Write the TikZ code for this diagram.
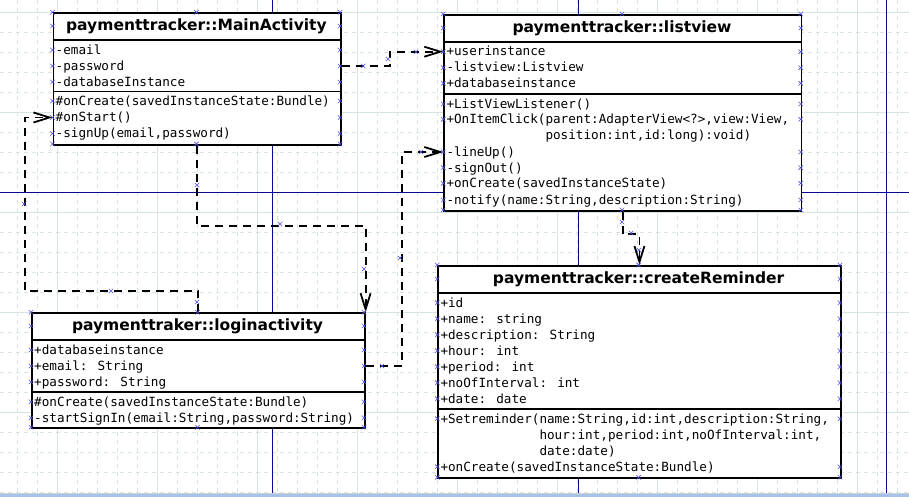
\documentclass[tikz,border=0pt]{standalone}
\usepackage{fontspec}
\setmainfont{DejaVu Sans}
\newfontfamily\umlmono{DejaVu Sans Mono}
\usepackage{tikz}
\usetikzlibrary{positioning,arrows.meta}
\definecolor{gridline}{RGB}{216,228,228}
\definecolor{pagebreak}{RGB}{10,10,140}
\definecolor{handle}{RGB}{80,80,235}
\definecolor{winbar}{RGB}{166,194,232}
\tikzstyle{classbox}=[rectangle, draw=black, line width=1.6pt, fill=white, anchor=north west, inner sep=0pt]
\tikzstyle{classname}=[font=\bfseries\fontsize{15.5}{18}\selectfont, inner sep=0pt]
\tikzstyle{member}=[font=\umlmono\fontsize{12.65}{16}\selectfont, anchor=west, inner sep=0pt,
text height=11pt, text depth=2.4pt]
\tikzstyle{divider}=[line width=1.6pt]
\tikzstyle{depend}=[line width=1.8pt, dash pattern=on 8pt off 6pt, -{Straight Barb[length=16pt,width=10pt]}]
\tikzstyle{handlemark}=[draw=handle, line width=0.6pt]
\newcommand{\hmark}[1]{\draw[handlemark] #1 +(-2.2pt,-2.2pt) -- +(2.2pt,2.2pt) +(-2.2pt,2.2pt) -- +(2.2pt,-2.2pt);}

\begin{document}
\begin{tikzpicture}[x=1pt,y=-1pt]
    \useasboundingbox (0,0) rectangle (909,497);
    \fill[white] (0,0) rectangle (909,497);

    % grid
    \foreach \gx in {17,37,...,897} \draw[gridline, line width=0.8pt, dash pattern=on 4pt off 4pt] (\gx,0) -- (\gx,497);
    \foreach \gy in {12,32,...,492} \draw[gridline, line width=0.8pt, dash pattern=on 4pt off 4pt] (0,\gy) -- (909,\gy);
    \foreach \gx in {57,157,...,857} \draw[gridline, line width=0.8pt] (\gx,0) -- (\gx,497);
    \foreach \gy in {12,112,...,412} \draw[gridline, line width=0.8pt] (0,\gy) -- (909,\gy);

    % page breaks
    \foreach \gx in {272,578,886} \draw[pagebreak, line width=1pt] (\gx,0) -- (\gx,497);
    \draw[pagebreak, line width=1pt] (0,192.7) -- (909,192.7);
    \fill[winbar] (0,494) rectangle (909,497);
    \draw[gray!35] (0,493.5) -- (909,493.5);

    % MainActivity
    \node[classbox, minimum width=287.5pt, minimum height=131.7pt] (ma) at (52.5,12.3) {};
    \draw[divider] (ma.west |- 0,40) -- (ma.east |- 0,40);
    \draw[divider] (ma.west |- 0,91.7) -- (ma.east |- 0,91.7);
    \node[classname] (ma-name) at (196.4,26) {paymenttracker::MainActivity};
    \node[member] (ma-a1) at (55.5,50) {-email};
    \node[member] (ma-a2) at (55.5,66) {-password};
    \node[member] (ma-a3) at (55.5,82) {-databaseInstance};
    \node[member] (ma-m1) at (55.5,101) {\#onCreate(savedInstanceState:Bundle)};
    \node[member] (ma-m2) at (55.5,117.5) {\#onStart()};
    \node[member] (ma-m3) at (55.5,133.5) {-signUp(email,password)};

    % listview
    \node[classbox, minimum width=357.4pt, minimum height=196pt] (lv) at (443.3,14) {};
    \draw[divider] (lv.west |- 0,42.3) -- (lv.east |- 0,42.3);
    \draw[divider] (lv.west |- 0,94) -- (lv.east |- 0,94);
    \node[classname] (lv-name) at (622,28) {paymenttracker::listview};
    \node[member] (lv-a1) at (446.3,51.7) {+userinstance};
    \node[member] (lv-a2) at (446.3,67.7) {-listview:Listview};
    \node[member] (lv-a3) at (446.3,83.3) {+databaseinstance};
    \node[member] (lv-m1) at (446.3,104) {+ListViewListener()};
    \node[member] (lv-m2) at (446.3,119.3) {+OnItemClick(parent:AdapterView<?>,view:View,};
    \node[member] (lv-m2b) at (446.3,135.6) {\hphantom{+OnItemClick(}position:int,id:long):void)};
    \node[member] (lv-m3) at (446.3,152) {-lineUp()};
    \node[member] (lv-m4) at (446.3,167.7) {-signOut()};
    \node[member] (lv-m5) at (446.3,183.3) {+onCreate(savedInstanceState)};
    \node[member] (lv-m6) at (446.3,200) {-notify(name:String,description:String)};

    % loginactivity
    \node[classbox, minimum width=333pt, minimum height=115pt] (la) at (31,312.3) {};
    \draw[divider] (la.west |- 0,340) -- (la.east |- 0,340);
    \draw[divider] (la.west |- 0,391.7) -- (la.east |- 0,391.7);
    \node[classname] (la-name) at (197.5,326) {paymenttraker::loginactivity};
    \node[member] (la-a1) at (34,350) {+databaseinstance};
    \node[member] (la-a2) at (34,366) {+email: String};
    \node[member] (la-a3) at (34,382) {+password: String};
    \node[member] (la-m1) at (34,401.7) {\#onCreate(savedInstanceState:Bundle)};
    \node[member] (la-m2) at (34,417.7) {-startSignIn(email:String,password:String)};

    % createReminder
    \node[classbox, minimum width=402.7pt, minimum height=212.3pt] (cr) at (437.3,265) {};
    \draw[divider] (cr.west |- 0,292.7) -- (cr.east |- 0,292.7);
    \draw[divider] (cr.west |- 0,409) -- (cr.east |- 0,409);
    \node[classname] (cr-name) at (638.6,279) {paymenttracker::createReminder};
    \node[member] (cr-a1) at (440.3,302.7) {+id};
    \node[member] (cr-a2) at (440.3,318.7) {+name: string};
    \node[member] (cr-a3) at (440.3,334.7) {+description: String};
    \node[member] (cr-a4) at (440.3,350.7) {+hour: int};
    \node[member] (cr-a5) at (440.3,366.7) {+period: int};
    \node[member] (cr-a6) at (440.3,382.7) {+noOfInterval: int};
    \node[member] (cr-a7) at (440.3,398.7) {+date: date};
    \node[member] (cr-m1) at (440.3,418.7) {+Setreminder(name:String,id:int,description:String,};
    \node[member] (cr-m1b) at (440.3,434.7) {\hphantom{+Setreminder(}hour:int,period:int,noOfInterval:int,};
    \node[member] (cr-m1c) at (440.3,450.7) {\hphantom{+Setreminder(}date:date)};
    \node[member] (cr-m2) at (440.3,466.7) {+onCreate(savedInstanceState:Bundle)};

    % dependencies
    \draw[depend] (ma.east |- ma-a2) -- ++(48,0) |- (lv.west |- lv-a1);
    \draw[depend] (la.north) -- ++(0,-21.3) -| ([xshift=-27.7pt]ma.west |- ma-m2) -- (ma.west |- ma-m2);
    \draw[depend] (ma.south) -- ++(0,80) -| (la.north east);
    \draw[depend] (la.east |- la-a2) -- ++(36,0) |- (lv.west |- lv-m3);
    \draw[depend] (lv.south) -- ++(0,22.7) -| (cr.north);

    % handles
    \foreach \yy in {12.3,26,50,66,82,101,117.5,133.5,144} {\hmark{(52.5,\yy)} \hmark{(340,\yy)}}
    \hmark{(196.4,12.3)} \hmark{(196.4,144)}
    \foreach \yy in {14,28,51.7,67.7,83.3,104,119.3,152,167.7,183.3,200,210} {\hmark{(443.3,\yy)} \hmark{(800.7,\yy)}}
    \hmark{(622,14)} \hmark{(622,210)}
    \foreach \yy in {312.3,326,350,366,382,401.7,417.7,427.3} {\hmark{(31,\yy)} \hmark{(364,\yy)}}
    \hmark{(197.5,312.3)} \hmark{(197.5,427.3)}
    \foreach \yy in {265,279,302.7,318.7,334.7,350.7,366.7,382.7,398.7,418.7,466.7,477.3} {\hmark{(437.3,\yy)} \hmark{(840,\yy)}}
    \hmark{(638.6,265)} \hmark{(638.6,477.3)}
    \foreach \hx/\hy in {363.3/66,388/59,416/51.7,24/204,111/291,197/302,197/185,280/224,364/269,382/366,400/258,421/152,622/222,631/233,639/250}
        {\hmark{(\hx,\hy)}}
\end{tikzpicture}
\end{document}
